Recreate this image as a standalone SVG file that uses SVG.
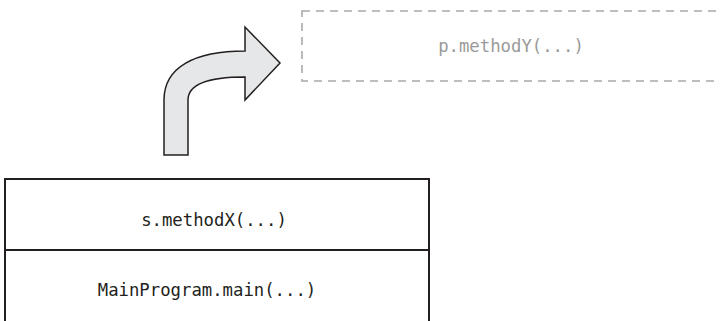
<svg xmlns="http://www.w3.org/2000/svg" width="720" height="321" viewBox="0 0 720 321">
<style>
.code{font-family:"DejaVu Sans Mono","Liberation Mono",monospace;font-size:17.3px;text-anchor:middle}
.frame{fill:none;stroke:#231f20;stroke-width:2}
.ghost{fill:none;stroke:#a7a9ac;stroke-width:1.6;stroke-dasharray:8 6}
</style>
<rect width="720" height="321" fill="#fff"/>
<g id="node-methodY">
<rect class="ghost" x="302" y="11" width="430" height="70"/>
<text class="code" x="511" y="52" fill="#9a9a9a">p.methodY(...)</text>
</g>
<g id="connectors">
<path d="M164,155 L164,100 C164,67 195,51 245,51 L245,27 L280,63 L245,100 L245,77 C205,77 188,85 188,100 L188,155 Z" fill="#e6e7e8" stroke="#231f20" stroke-width="1.5" stroke-linejoin="miter"/>
</g>
<g id="node-stack">
<path class="frame" d="M5,330 L5,179 L429,179 L429,330"/>
<line class="frame" x1="5" y1="250" x2="429" y2="250"/>
</g>
<g id="node-methodX">
<text class="code" x="214" y="226" fill="#231f20">s.methodX(...)</text>
</g>
<g id="node-main">
<text class="code" x="207" y="296" fill="#231f20">MainProgram.main(...)</text>
</g>
</svg>
